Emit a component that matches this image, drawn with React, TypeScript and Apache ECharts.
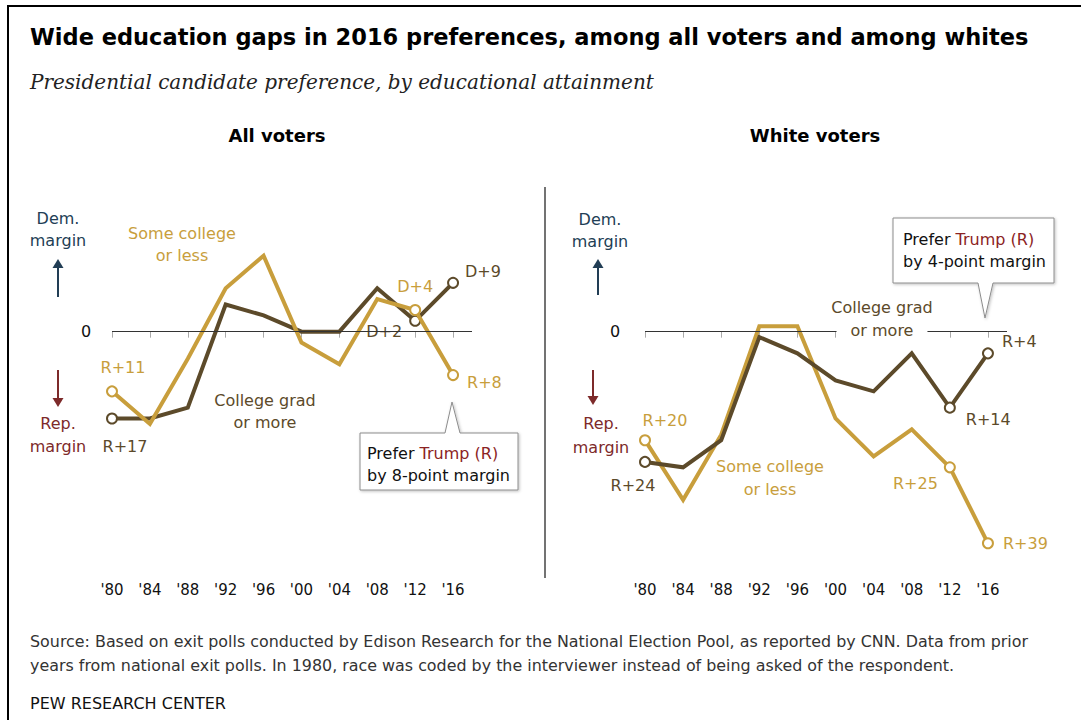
import React, { useEffect, useRef } from "react";
import * as echarts from "echarts";

// ---------- data ----------
const years = [1980, 1984, 1988, 1992, 1996, 2000, 2004, 2008, 2012, 2016];
const yearTickLabels = ["'80", "'84", "'88", "'92", "'96", "'00", "'04", "'08", "'12", "'16"];

// Democratic margin (positive) / Republican margin (negative), in points
const allCollegeGrad = [-16, -16, -14, 5, 3, 0, 0, 8, 2, 9];
const allSomeCollege = [-11, -17, -5, 8, 14, -2, -6, 6, 4, -8];
const whiteCollegeGrad = [-24, -25, -20, -1, -4, -9, -11, -4, -14, -4];
const whiteSomeCollege = [-20, -31, -19, 1, 1, -16, -23, -18, -25, -39];

const allCollegeGradLabels = ["R+17", "D+2", "D+9"]; // '80, '12, '16
const allSomeCollegeLabels = ["R+11", "D+4", "R+8"];
const whiteCollegeGradLabels = ["R+24", "R+14", "R+4"];
const whiteSomeCollegeLabels = ["R+20", "R+25", "R+39"];

const panelTitles = ["All voters", "White voters"];

// ---------- style ----------
const GOLD = "#c89e3c";
const DARK = "#5c4a2a";
const NAVY = "#223e55";
const RED = "#7d2a2a";
const FONT = "'DejaVu Sans', 'Noto Sans', sans-serif";

const markedIdx = [0, 8, 9];

type LabelSpec = { position: string; offset: number[]; distance: number; bg?: boolean };

function buildData(values: number[], texts: string[], color: string, specs: LabelSpec[]) {
  return values.map((v, i) => {
    const k = markedIdx.indexOf(i);
    if (k < 0) return { value: [years[i], v], symbol: "none" };
    const s = specs[k];
    return {
      value: [years[i], v],
      symbol: "circle",
      label: {
        show: true,
        formatter: texts[k],
        position: s.position,
        offset: s.offset,
        distance: s.distance,
        color,
        fontFamily: FONT,
        fontSize: 16,
        backgroundColor: s.bg ? "#fff" : "transparent",
        padding: s.bg ? [0, 3] : 0,
      },
    };
  });
}

function lineSeries(name: string, idx: number, values: number[], texts: string[], color: string, specs: LabelSpec[], z: number) {
  return {
    name,
    type: "line",
    xAxisIndex: idx,
    yAxisIndex: idx,
    z,
    symbolSize: 10,
    lineStyle: { color, width: 4, join: "miter" },
    itemStyle: { color: "#fff", borderColor: color, borderWidth: 2 },
    emphasis: { disabled: true },
    data: buildData(values, texts, color, specs),
  };
}

function zeroSeries(idx: number) {
  return {
    type: "line",
    xAxisIndex: idx,
    yAxisIndex: idx,
    z: 1,
    data: [],
    markLine: {
      silent: true,
      symbol: "none",
      label: { show: false },
      lineStyle: { color: "#333", width: 1, type: "solid" },
      data: [{ yAxis: 0 }],
    },
  };
}

function xAxis(idx: number) {
  return {
    type: "value",
    gridIndex: idx,
    min: 1980,
    max: 2018,
    interval: 4,
    axisLine: { show: false },
    splitLine: { show: false },
    axisTick: { show: true, length: 6, lineStyle: { color: "#aaa" }, customValues: years },
    axisLabel: {
      customValues: years,
      margin: 17,
      color: "#111",
      fontFamily: FONT,
      fontSize: 15,
      formatter: (v: number) => {
        const i = years.indexOf(v);
        return i >= 0 ? yearTickLabels[i] : "";
      },
    },
  };
}

function yAxis(idx: number) {
  return {
    type: "value",
    gridIndex: idx,
    min: -43,
    max: 25,
    show: false,
    splitLine: { show: false },
  };
}

function txt(x: number, y: number, text: string, opts: any = {}) {
  return {
    type: "text",
    x,
    y,
    z: 50,
    style: {
      text,
      fill: opts.fill || "#222",
      font: opts.font || `16px ${FONT}`,
      textAlign: opts.align || "center",
      textVerticalAlign: "middle",
      lineHeight: opts.lineHeight,
      backgroundColor: opts.bg,
      padding: opts.padding,
      rich: opts.rich,
    },
  };
}

function arrow(x: number, y1: number, y2: number, color: string) {
  const up = y2 < y1;
  const tipY = y2;
  const baseY = up ? y2 + 9 : y2 - 9;
  return [
    { type: "line", z: 50, shape: { x1: x, y1, x2: x, y2: baseY }, style: { stroke: color, lineWidth: 2 } },
    { type: "polygon", z: 50, shape: { points: [[x - 5.5, baseY], [x + 5.5, baseY], [x, tipY]] }, style: { fill: color } },
  ];
}

function callout(points: number[][]) {
  return {
    type: "polygon",
    z: 40,
    shape: { points },
    style: { fill: "#fff", stroke: "#8c8c8c", lineWidth: 1, shadowBlur: 3, shadowColor: "rgba(0,0,0,0.25)", shadowOffsetX: 1, shadowOffsetY: 1 },
  };
}

const calloutRich = {
  a: { fill: "#111", font: `16px ${FONT}`, lineHeight: 22 },
  b: { fill: "#8b2323", font: `16px ${FONT}`, lineHeight: 22 },
};

export default function App() {
  const ref = useRef<HTMLDivElement>(null);
  useEffect(() => {
    if (!ref.current) return;
    const chart = echarts.init(ref.current, null, { renderer: "svg" });
    const graphic: any[] = [
      // frame
      { type: "line", z: 60, shape: { x1: 7, y1: 6, x2: 1081, y2: 6 }, style: { stroke: "#000", lineWidth: 2 } },
      { type: "line", z: 60, shape: { x1: 8, y1: 5, x2: 8, y2: 720 }, style: { stroke: "#000", lineWidth: 2 } },
      // title & subtitle
      txt(30, 37, "Wide education gaps in 2016 preferences, among all voters and among whites", {
        align: "left",
        font: `bold 22.5px ${FONT}`,
        fill: "#000",
      }),
      txt(30, 82, "Presidential candidate preference, by educational attainment", {
        align: "left",
        font: `italic 20px 'DejaVu Serif', 'Liberation Serif', serif`,
        fill: "#222",
      }),
      // panel titles
      txt(277, 135, panelTitles[0], { font: `bold 18px ${FONT}`, fill: "#000" }),
      txt(815, 135, panelTitles[1], { font: `bold 18px ${FONT}`, fill: "#000" }),
      // divider
      { type: "line", z: 50, shape: { x1: 545, y1: 187, x2: 545, y2: 578 }, style: { stroke: "#444", lineWidth: 1.5 } },
      // left y annotations
      txt(58, 229, "Dem.\nmargin", { fill: NAVY, lineHeight: 22 }),
      ...arrow(58, 297, 259, NAVY),
      txt(86, 331, "0", { fill: "#111" }),
      ...arrow(58, 370, 407, RED),
      txt(58, 435, "Rep.\nmargin", { fill: RED, lineHeight: 23 }),
      // right y annotations
      txt(600, 230, "Dem.\nmargin", { fill: NAVY, lineHeight: 22 }),
      ...arrow(598, 295, 259, NAVY),
      txt(615, 331, "0", { fill: "#111" }),
      ...arrow(593, 370, 405, RED),
      txt(601, 435, "Rep.\nmargin", { fill: RED, lineHeight: 24 }),
      // series name annotations
      txt(182, 244, "Some college\nor less", { fill: GOLD, lineHeight: 22 }),
      txt(265, 411, "College grad\nor more", { fill: DARK, lineHeight: 22 }),
      txt(770, 478, "Some college\nor less", { fill: GOLD, lineHeight: 23 }),
      txt(882, 307, "College grad", { fill: DARK }),
      txt(882, 330, "or more", { fill: DARK, bg: "#fff", padding: [0, 14] }),
      // callouts
      callout([[360, 433], [445, 433], [452, 402], [460, 433], [518, 433], [518, 490], [360, 490]]),
      txt(367, 464, "{a|Prefer }{b|Trump (R)}\n{a|by 8-point margin}", { align: "left", rich: calloutRich }),
      callout([[893, 218], [1054, 218], [1054, 283], [993, 283], [985, 318], [978, 283], [893, 283]]),
      txt(903, 250, "{a|Prefer }{b|Trump (R)}\n{a|by 4-point margin}", { align: "left", rich: calloutRich }),
      // source
      txt(30, 641, "Source: Based on exit polls conducted by Edison Research for the National Election Pool, as reported by CNN. Data from prior", {
        align: "left",
        fill: "#333",
        font: `15.9px ${FONT}`,
      }),
      txt(30, 665, "years from national exit polls. In 1980, race was coded by the interviewer instead of being asked of the respondent.", {
        align: "left",
        fill: "#333",
        font: `15.9px ${FONT}`,
      }),
      txt(30, 703, "PEW RESEARCH CENTER", { align: "left", fill: "#111" }),
    ];

    chart.setOption({
      animation: false,
      backgroundColor: "#fff",
      grid: [
        { left: 112, top: 196, width: 360, height: 369 },
        { left: 645, top: 196, width: 362, height: 369 },
      ],
      xAxis: [xAxis(0), xAxis(1)],
      yAxis: [yAxis(0), yAxis(1)],
      series: [
        zeroSeries(0),
        zeroSeries(1),
        lineSeries("College grad or more (all)", 0, allCollegeGrad, allCollegeGradLabels, DARK, [
          { position: "bottom", offset: [13, 0], distance: 14 },
          { position: "left", offset: [0, 11], distance: 4, bg: true },
          { position: "right", offset: [0, -11], distance: 6 },
        ], 3),
        lineSeries("Some college or less (all)", 0, allSomeCollege, allSomeCollegeLabels, GOLD, [
          { position: "top", offset: [11, 0], distance: 10 },
          { position: "top", offset: [0, 0], distance: 9 },
          { position: "right", offset: [0, 7], distance: 8 },
        ], 4),
        lineSeries("College grad or more (white)", 1, whiteCollegeGrad, whiteCollegeGradLabels, DARK, [
          { position: "bottom", offset: [-12, 0], distance: 10 },
          { position: "right", offset: [0, 12], distance: 10 },
          { position: "right", offset: [0, -12], distance: 8 },
        ], 4),
        lineSeries("Some college or less (white)", 1, whiteSomeCollege, whiteSomeCollegeLabels, GOLD, [
          { position: "top", offset: [20, 0], distance: 6 },
          { position: "left", offset: [0, 16], distance: 6 },
          { position: "right", offset: [0, 0], distance: 9 },
        ], 3),
      ],
      graphic,
    });
    return () => chart.dispose();
  }, []);
  return <div ref={ref} style={{ position: "absolute", left: 0, top: 0, width: 1081, height: 720 }} />;
}
